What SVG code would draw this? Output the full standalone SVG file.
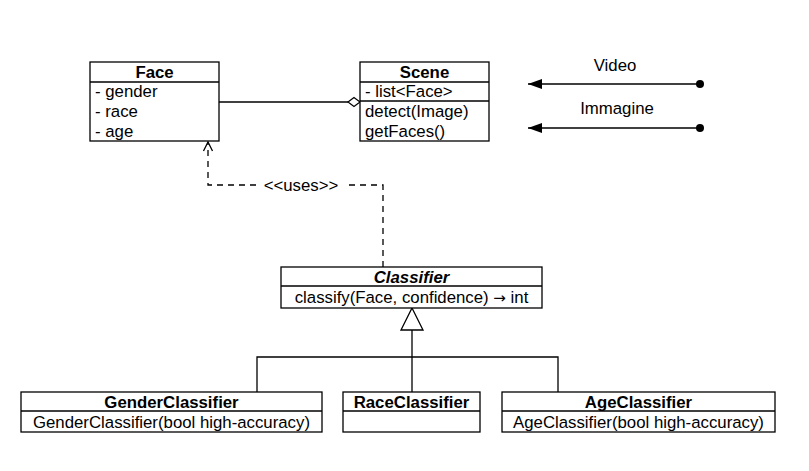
<svg xmlns="http://www.w3.org/2000/svg" width="809" height="471" viewBox="0 0 809 471">
<style>
.box{fill:#fff;stroke:#000;stroke-width:1.3}
.ln{stroke:#000;stroke-width:1.3;fill:none}
.t{font-family:"Liberation Sans",Arial,sans-serif;font-size:16.8px;fill:#000}
.b{font-weight:bold;text-anchor:middle}
.c{text-anchor:middle}
.dash{stroke:#000;stroke-width:1.3;fill:none;stroke-dasharray:6,5}
</style>
<defs>
<marker id="open" markerWidth="12" markerHeight="12" refX="10" refY="6" orient="auto" markerUnits="userSpaceOnUse">
<path d="M1,1.5 L10,6 L1,10.5" fill="none" stroke="#000" stroke-width="1.3"/>
</marker>
<marker id="filled" markerWidth="16" markerHeight="12" refX="14" refY="6" orient="auto" markerUnits="userSpaceOnUse">
<path d="M14,6 L0,1 L0,11 Z" fill="#000"/>
</marker>
<marker id="dot" markerWidth="10" markerHeight="10" refX="5" refY="5" markerUnits="userSpaceOnUse">
<circle cx="5" cy="5" r="4" fill="#000"/>
</marker>
</defs>
<g id="connectors">
<line class="ln" x1="219" y1="102" x2="348" y2="102"/>
<path d="M348,102 L354,97.5 L360,102 L354,106.5 Z" fill="#fff" stroke="#000" stroke-width="1.2"/>
<path class="dash" d="M383,267 L383,185 L347,185 M256,185 L208,185 L208,142" marker-end="url(#open)"/>
<line class="ln" x1="700" y1="84" x2="528" y2="84" marker-end="url(#filled)" marker-start="url(#dot)"/>
<line class="ln" x1="700" y1="128" x2="528" y2="128" marker-end="url(#filled)" marker-start="url(#dot)"/>
<path class="ln" d="M412,330 L412,392 M257,392 L257,357 L558,357 L558,392"/>
<path d="M412,308 L423,330 L401,330 Z" fill="#fff" stroke="#000" stroke-width="1.3"/>
<text class="t c" x="301" y="191">&lt;&lt;uses&gt;&gt;</text>
<text class="t c" x="615" y="71">Video</text>
<text class="t c" x="617" y="114">Immagine</text>
</g>
<g id="Face">
<rect class="box" x="90" y="62" width="129" height="79"/>
<line class="ln" x1="90" y1="82" x2="219" y2="82"/>
<text class="t b" x="154.5" y="78">Face</text>
<text class="t" x="95" y="97">- gender</text>
<text class="t" x="95" y="117">- race</text>
<text class="t" x="95" y="137">- age</text>
</g>
<g id="Scene">
<rect class="box" x="360" y="62" width="129" height="79"/>
<line class="ln" x1="360" y1="82" x2="489" y2="82"/>
<line class="ln" x1="360" y1="101" x2="489" y2="101"/>
<text class="t b" x="424.5" y="78">Scene</text>
<text class="t" x="365" y="97">- list&lt;Face&gt;</text>
<text class="t" x="365" y="117">detect(Image)</text>
<text class="t" x="365" y="137">getFaces()</text>
</g>
<g id="Classifier">
<rect class="box" x="281" y="267" width="261" height="41"/>
<line class="ln" x1="281" y1="286" x2="542" y2="286"/>
<text class="t b" x="411.5" y="283" font-style="italic">Classifier</text>
<text class="t c" x="411.5" y="303">classify(Face, confidence) <tspan font-family="'DejaVu Sans',sans-serif" font-size="15px">→</tspan> int</text>
</g>
<g id="GenderClassifier">
<rect class="box" x="21" y="392" width="301" height="40"/>
<line class="ln" x1="21" y1="411" x2="322" y2="411"/>
<text class="t b" x="171.5" y="408">GenderClassifier</text>
<text class="t c" x="171.5" y="428">GenderClassifier(bool high-accuracy)</text>
</g>
<g id="RaceClassifier">
<rect class="box" x="343" y="392" width="137" height="40"/>
<line class="ln" x1="343" y1="411" x2="480" y2="411"/>
<text class="t b" x="411.5" y="408">RaceClassifier</text>
</g>
<g id="AgeClassifier">
<rect class="box" x="502" y="392" width="273" height="40"/>
<line class="ln" x1="502" y1="411" x2="775" y2="411"/>
<text class="t b" x="638.5" y="408">AgeClassifier</text>
<text class="t c" x="638.5" y="428">AgeClassifier(bool high-accuracy)</text>
</g>
</svg>
